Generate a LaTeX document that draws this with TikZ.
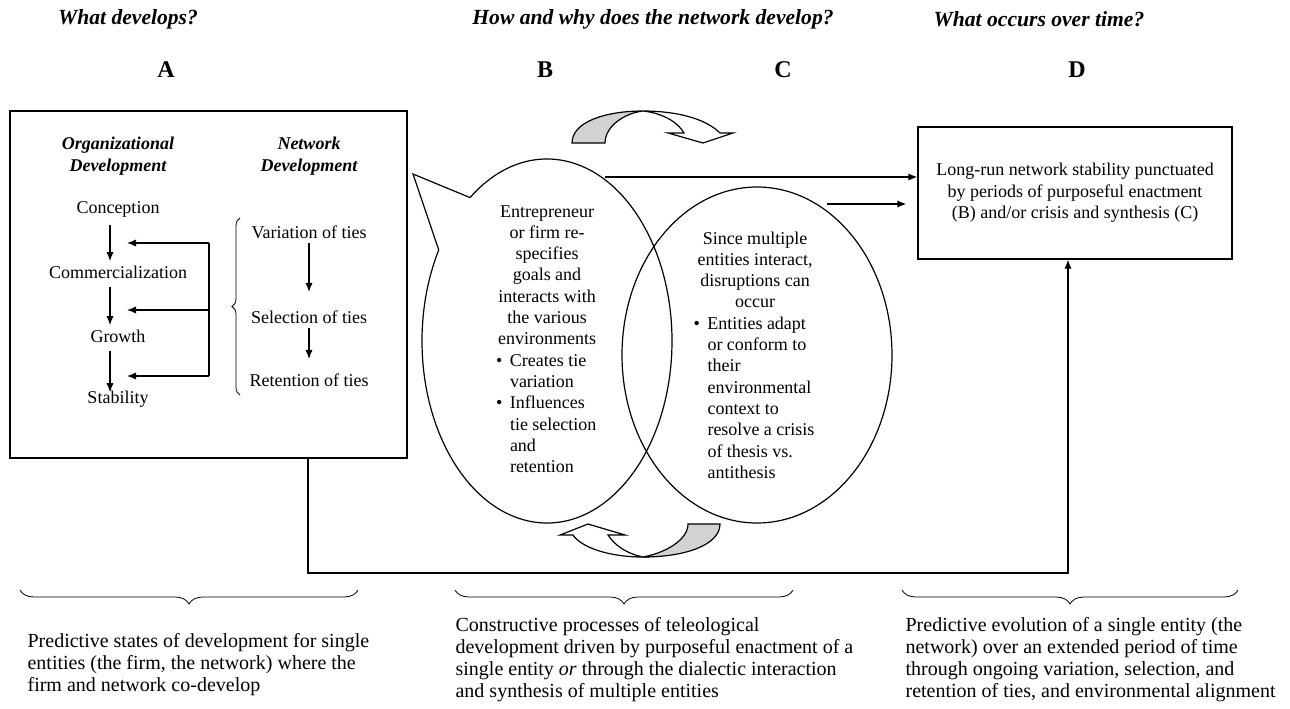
\documentclass[tikz,border=0pt]{standalone}
\usepackage{fontspec}
\setmainfont{Liberation Serif}
\usepackage{tikz}
\usetikzlibrary{positioning}
\usetikzlibrary{calc}
\usetikzlibrary{arrows.meta}
\usetikzlibrary{shapes.geometric}
\usetikzlibrary{decorations.pathreplacing}
\tikzstyle{heading}=[font=\fontsize{10.8}{12}\selectfont\bfseries\itshape]
\tikzstyle{letter}=[font=\fontsize{12}{14}\selectfont\bfseries]
\tikzstyle{colhead}=[align=center, font=\fontsize{9}{11}\selectfont\bfseries\itshape]
\tikzstyle{stage}=[inner sep=2pt, font=\fontsize{9}{10.65}\selectfont]
\tikzstyle{bodytext}=[align=center, inner sep=0pt, font=\fontsize{9}{10.65}\selectfont]
\tikzstyle{caption}=[align=left, anchor=north west, inner sep=0pt, font=\fontsize{10}{11}\selectfont]
\tikzstyle{arrow}=[-{Latex[length=4.5pt, width=3.6pt]}]
\tikzstyle{border}=[draw, inner sep=0pt]
\tikzstyle{brace}=[decorate, decoration={brace, amplitude=4pt}]
\tikzstyle{underbrace}=[decorate, decoration={brace, mirror, amplitude=7pt}]
\tikzstyle{backturn}=[draw, fill=gray!35]
\tikzstyle{frontturn}=[draw, fill=white]
\newcommand{\tieitem}[2]{\makebox[#1][l]{\makebox[7pt][l]{\textbullet}#2}}
\newcommand{\tiecont}[2]{\makebox[#1][l]{\hspace{7pt}#2}}

\begin{document}
\begin{tikzpicture}[x=0.5pt, y=-0.5pt, line width=0.6pt]
      \useasboundingbox (0,0) rectangle (1290,708);

      \node[heading] (askA) at (128,19) {What develops?};
      \node[heading] (askBC) at (653,19) {How and why does the network develop?};
      \node[heading] (askD) at (1039,19) {What occurs over time?};
      \node[letter] (letA) at (166,70) {A};
      \node[letter] (letB) at (545,70) {B};
      \node[letter] (letC) at (783,70) {C};
      \node[letter] (letD) at (1077,70) {D};

      % box A
      \node[border, minimum width=198.5pt, minimum height=173.5pt] (boxA) at (208.5,284.5) {};
      \node[colhead] (orgHead) at (118,156) {Organizational\\Development};
      \node[colhead] (netHead) at (309,156) {Network\\Development};
      \node[stage] (conception) at (118,209) {Conception};
      \node[stage] (commercial) at (118,272) {Commercialization};
      \node[stage] (growth) at (118,336) {Growth};
      \node[stage] (stability) at (118,399) {Stability};
      \node[stage] (variation) at (309,232) {Variation of ties};
      \node[stage] (selection) at (309,317) {Selection of ties};
      \node[stage] (retention) at (309,380) {Retention of ties};

      \draw[arrow, shorten <=2pt] ([xshift=-4pt]conception.south) -- ([xshift=-4pt]commercial.north);
      \draw[arrow, shorten <=2pt] ([xshift=-4pt]commercial.south) -- ([xshift=-4pt]growth.north);
      \draw[arrow, shorten <=2pt, shorten >=-3pt] ([xshift=-4pt]growth.south) -- ([xshift=-4pt]stability.north);
      \draw[arrow, shorten >=7pt] (variation) -- (selection);
      \draw[arrow, shorten >=5pt] (selection) -- (retention);

      \foreach \n/\y in {1/243, 2/310, 3/376}{
        \coordinate (fbIn\n) at (209,\y);
        \coordinate (fbOut\n) at (127,\y);
      }
      \draw (fbIn1) -- (fbIn3);
      \foreach \n in {1,2,3}{
        \draw[arrow] (fbIn\n) -- (fbOut\n);
      }
      \draw[brace, line width=0.4pt] (240,395) -- (240,218);

      % B and C
      \coordinate (ellB) at (547,341);
      \coordinate (bubbleTip) at (413,174);
      \draw (bubbleTip) -- ([shift={(128:62.5pt and 91pt)}]ellB)
        arc[start angle=128, end angle=-210, x radius=62.5pt, y radius=91pt] -- cycle;
      \node[ellipse, draw, minimum width=135pt, minimum height=168pt, inner sep=0pt] (ellC) at (757,355) {};

      \node[bodytext] (goalText) at (547,339) {Entrepreneur\\or firm re-\\specifies\\goals and\\interacts with\\the various\\environments\\
        \tieitem{51pt}{Creates tie}\\\tiecont{51pt}{variation}\\\tieitem{51pt}{Influences}\\
        \tiecont{51pt}{tie selection}\\\tiecont{51pt}{and}\\\tiecont{51pt}{retention}};
      \node[bodytext] (crisisText) at (755,355) {Since multiple\\entities interact,\\disruptions can\\occur\\
        \tieitem{61.5pt}{Entities adapt}\\\tiecont{61.5pt}{or conform to}\\\tiecont{61.5pt}{their}\\
        \tiecont{61.5pt}{environmental}\\\tiecont{61.5pt}{context to}\\\tiecont{61.5pt}{resolve a crisis}\\
        \tiecont{61.5pt}{of thesis vs.}\\\tiecont{61.5pt}{antithesis}};

      \path[backturn] (572,143) .. controls (572,122) and (605,111) .. (643,111)
        .. controls (625,113) and (605,126) .. (605,143) -- cycle;
      \path[frontturn] (643,111) .. controls (675,111) and (705,118) .. (720,133) -- (733,133) -- (703,143)
        -- (668,133) -- (684,133) .. controls (678,122) and (662,113) .. (643,111) -- cycle;
      \path[backturn] (720,524) .. controls (720,545) and (685,557) .. (643,557)
        .. controls (665,553) and (688,540) .. (688,524) -- cycle;
      \path[frontturn] (643,557) .. controls (610,557) and (582,548) .. (573,535) -- (560,535) -- (588,524)
        -- (625,535) -- (608,535) .. controls (615,546) and (628,554) .. (643,557) -- cycle;

      % box D
      \node[border, minimum width=157pt, minimum height=66pt, align=center, font=\fontsize{9}{10.75}\selectfont] (boxD) at (1075,193)
        {Long-run network stability punctuated\\by periods of purposeful enactment\\(B) and/or crisis and synthesis (C)};

      \coordinate (fromB) at (605,177);
      \coordinate (fromC) at (827,204);
      \draw[arrow] (fromB) -- (fromB -| boxD.west);
      \draw[arrow, shorten >=5.5pt] (fromC) -- (fromC -| boxD.west);

      \coordinate (loopA) at (308,573);
      \coordinate (loopD) at (1068,573);
      \draw[arrow] (loopA |- boxA.south) -- (loopA) -- (loopD) -- (loopD |- boxD.south);

      % bottom
      \draw[underbrace, line width=0.4pt] (20,590) -- (358,590);
      \draw[underbrace, line width=0.4pt] (455,590) -- (793,590);
      \draw[underbrace, line width=0.4pt] (902,590) -- (1238,590);
      \node[caption] (capA) at (27,633) {Predictive states of development for single\\entities (the firm, the network) where the\\firm and network co-develop};
      \node[caption] (capBC) at (455,617) {Constructive processes of teleological\\development driven by purposeful enactment of a\\single entity \textit{or} through the dialectic interaction\\and synthesis of multiple entities};
      \node[caption] (capD) at (905,617) {Predictive evolution of a single entity (the\\network) over an extended period of time\\through ongoing variation, selection, and\\retention of ties, and environmental alignment};

\end{tikzpicture}
\end{document}
